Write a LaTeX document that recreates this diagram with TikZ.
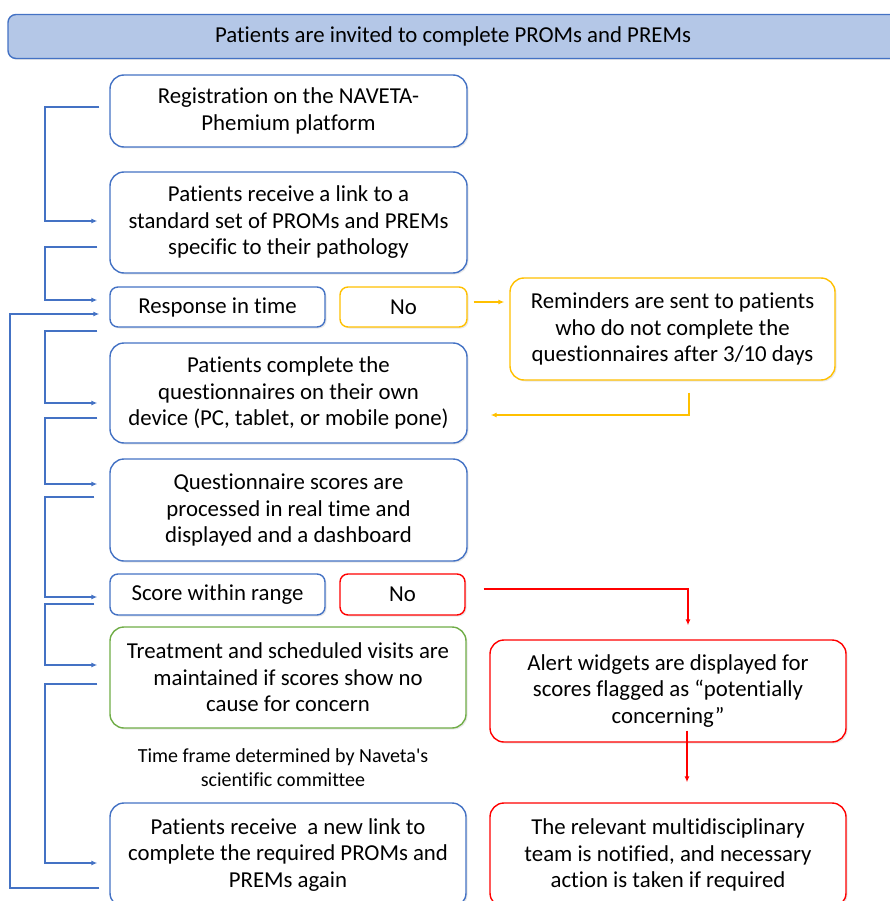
\documentclass[tikz,border=0pt]{standalone}
\usepackage{fontspec}
\setmainfont{Carlito}[Ligatures={TeX,NoCommon}]
\usetikzlibrary{arrows.meta,calc,shadows}
\definecolor{cblue}{HTML}{4472C4}
\definecolor{cyel}{HTML}{FFC000}
\definecolor{cred}{HTML}{FF0000}
\definecolor{cgreen}{HTML}{70AD47}
\definecolor{ctitle}{HTML}{B4C7E7}
\tikzset{
  box/.style={draw=cblue, line width=1.4pt, rounded corners=14pt, fill=white, align=center,
    inner sep=0pt, font=\fontsize{22.8}{26.5}\selectfont,
    drop shadow={shadow xshift=1.5pt, shadow yshift=-1.5pt, opacity=0.18}},
  smallbox/.style={box, rounded corners=8pt},
  yelbox/.style={draw=cyel},
  redbox/.style={draw=cred},
  greenbox/.style={draw=cgreen},
  conn/.style={line width=1.3pt, -{Latex[length=6pt,width=5pt]}},
  bconn/.style={conn, draw=cblue},
  yconn/.style={conn, draw=cyel},
  rconn/.style={conn, draw=cred},
}
\begin{document}
\begin{tikzpicture}[x=1pt,y=-1pt]
\useasboundingbox (0,0) rectangle (889,901);
% title
\node[box, fill=ctitle, rounded corners=8pt, minimum width=890, minimum height=44] (title) at (453,36.5) {Patients are invited to complete PROMs and PREMs};
% left column
\node[box, minimum width=357, minimum height=72] (b1) at (288.5,111) {Registration on the NAVETA-\\Phemium platform};
\node[box, minimum width=357, minimum height=101] (b2) at (288.5,222.5) {Patients receive a link to a\\standard set of PROMs and PREMs\\specific to their pathology};
\node[smallbox, minimum width=215, minimum height=40] (resp) at (217.5,307) {Response in time};
\node[smallbox, yelbox, minimum width=127, minimum height=40] (no1) at (403.5,307) {No};
\node[box, yelbox, minimum width=325, minimum height=102] (rem) at (672.5,329) {Reminders are sent to patients\\who do not complete the\\questionnaires after 3/10 days};
\node[box, minimum width=357, minimum height=100] (b3) at (288.5,393) {Patients complete the\\questionnaires on their own\\device (PC, tablet, or mobile pone)};
\node[box, minimum width=357, minimum height=102] (b4) at (288.5,510) {Questionnaire scores are\\processed in real time and\\displayed and a dashboard};
\node[smallbox, minimum width=215, minimum height=41] (score) at (217.5,594.5) {Score within range};
\node[smallbox, redbox, minimum width=125, minimum height=41] (no2) at (402.5,594.5) {No};
\node[box, greenbox, minimum width=356, minimum height=101] (green) at (288,677.5) {Treatment and scheduled visits are\\maintained if scores show no\\cause for concern};
\node[box, redbox, minimum width=356, minimum height=102] (alert) at (668,691) {Alert widgets are displayed for\\scores flagged as “potentially\\concerning”};
\node[align=center, font=\fontsize{20}{24}\selectfont] (note) at (283,768) {Time frame determined by Naveta\textquotesingle s\\scientific committee};
\node[box, minimum width=356, minimum height=104] (b5) at (288,855) {Patients receive\ \ a new link to\\complete the required PROMs and\\PREMs again};
\node[box, redbox, minimum width=356, minimum height=104] (notif) at (668,855) {The relevant multidisciplinary\\team is notified, and necessary\\action is taken if required};
% blue brackets
\draw[bconn] ($(b1.west)+(-10,-4)$) -- (45,107) |- ($(b2.west)+(-12,-1.5)$);
\draw[bconn] ($(b2.west)+(-12,24.5)$) -- (45,247) |- ($(resp.west)+(-12,-7)$);
\draw[bconn] ($(b5.west)+(-10,33)$) -- (10,888) |- ($(resp.west)+(-10,7)$);
\draw[bconn] ($(resp.west)+(-12,24)$) -- (45,331) |- ($(b3.west)+(-12,10)$);
\draw[bconn] ($(b3.west)+(-12,25)$) -- (45,418) |- ($(b4.west)+(-12,-26)$);
\draw[bconn] ($(b4.west)+(-15,-13)$) -- (45,497) |- ($(score.west)+(-12,2.5)$);
\draw[bconn] ($(score.west)+(-15,9.5)$) -- (45,604) |- ($(green.west)+(-12,-12.5)$);
\draw[bconn] ($(green.west)+(-12,6.5)$) -- (45,684) |- ($(b5.west)+(-12,8)$);
% yellow
\draw[yconn] ($(no1.east)+(6,-5)$) -- ($(rem.west)+(-5,-27)$);
\draw[yconn] ($(rem.south)+(16.5,12)$) |- ($(b3.east)+(23,22)$);
% red
\draw[rconn] ($(no2.east)+(18,-5.5)$) -| ($(alert.north)+(20,-14)$);
\draw[rconn] ($(alert.south)+(19,-12)$) -- ($(notif.north)+(19,-20)$);
\end{tikzpicture}
\end{document}
